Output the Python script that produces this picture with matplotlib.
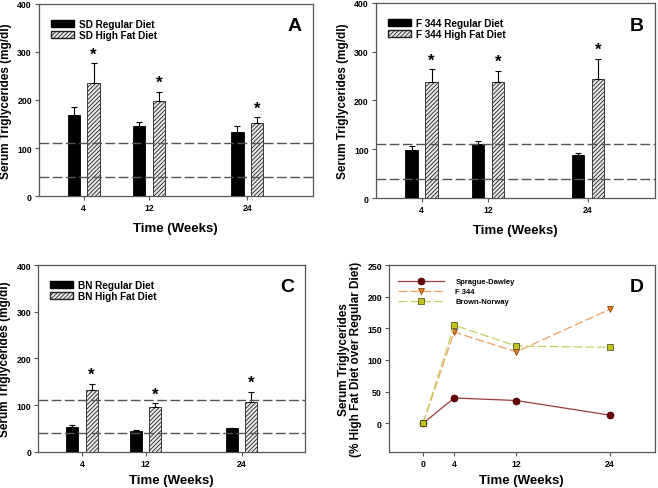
import matplotlib
matplotlib.use("Agg")
import matplotlib.pyplot as plt
from matplotlib.patches import Patch

plt.rcParams['font.family'] = ['Liberation Sans', 'DejaVu Sans']
plt.rcParams['font.weight'] = 'bold'
plt.rcParams['hatch.color'] = '#555555'
plt.rcParams['hatch.linewidth'] = 0.6

weeks = [4, 12, 24]

# panel A: Sprague-Dawley
sd_reg = [168, 145, 134]
sd_reg_err = [17, 10, 11]
sd_hf = [236, 197, 152]
sd_hf_err = [40, 20, 12]

# panel B: F344
f344_reg = [98, 110, 88]
f344_reg_err = [9, 6, 5]
f344_hf = [238, 237, 245]
f344_hf_err = [26, 24, 41]

# panel C: Brown-Norway
bn_reg = [53, 44, 50]
bn_reg_err = [4, 3, 1]
bn_hf = [132, 96, 106]
bn_hf_err = [13, 8, 23]

# reference range lines (mg/dl)
ref_lines = [110, 40]

# panel D: % high fat over regular
d_weeks = [0, 4, 12, 24]
d_sd = [0, 40, 36, 13]
d_f344 = [0, 144, 113, 180]
d_bn = [0, 155, 122, 120]

fig = plt.figure(figsize=(6.58, 4.89), dpi=100)

axA = fig.add_axes([0.059, 0.597, 0.416, 0.393])
axB = fig.add_axes([0.571, 0.593, 0.424, 0.399])
axC = fig.add_axes([0.058, 0.074, 0.406, 0.382])
axD = fig.add_axes([0.591, 0.074, 0.404, 0.382])

spine_col = '#555555'
dash = (0, (7, 2.5))


def style_axes(ax):
    for s in ax.spines.values():
        s.set_color(spine_col)
        s.set_linewidth(0.9)
    ax.tick_params(direction='out', length=3, width=0.8, color=spine_col,
                   labelsize=6.3, pad=2)
    for lab in ax.get_xticklabels() + ax.get_yticklabels():
        lab.set_fontweight('bold')


def bar_panel(ax, reg, reg_err, hf, hf_err, strain, letter, xpad):
    off = 1.2
    w = 1.5
    xr = [x - off for x in weeks]
    xh = [x + off for x in weeks]
    ekw = dict(ecolor='black', elinewidth=0.8, capsize=2, capthick=0.8)
    ax.bar(xr, reg, width=w, color='black', edgecolor='black', linewidth=0.6,
           yerr=[[0] * 3, reg_err], error_kw=ekw, zorder=3)
    ax.bar(xh, hf, width=w, color='#e8e8e8', edgecolor='#222222', linewidth=0.6, hatch='////////',
           yerr=[[0] * 3, hf_err], error_kw=ekw, zorder=3)
    for x, v, e in zip(xh, hf, hf_err):
        ax.text(x, v + e + 4, '*', ha='center', va='bottom', fontsize=12, fontweight='bold')
    for y in ref_lines:
        ax.axhline(y, color='#555555', lw=1.0, ls=dash, zorder=4)
    ax.set_xlim(-1.5, 32)
    ax.set_ylim(0, 400)
    ax.set_xticks(weeks)
    ax.set_yticks([0, 100, 200, 300, 400])
    ax.set_xlabel('Time (Weeks)', fontsize=9.5, fontweight='bold', labelpad=xpad)
    ax.set_ylabel('Serum Triglycerides (mg/dl)', fontsize=8.5, fontweight='bold', labelpad=4)
    handles = [Patch(facecolor='black', edgecolor='black'),
               Patch(facecolor='#e8e8e8', edgecolor='#222222', hatch='////////')]
    ax.legend(handles, [strain + ' Regular Diet', strain + ' High Fat Diet'],
              loc='upper left', bbox_to_anchor=(0.0, 0.985), frameon=False,
              handlelength=2.3, handleheight=0.7, labelspacing=0.15, handletextpad=0.5,
              borderaxespad=0.8, prop={'weight': 'bold', 'size': 7.2})
    ax.text(0.96, 0.93, letter, transform=ax.transAxes, ha='right', va='top',
            fontsize=14, fontweight='bold')
    style_axes(ax)


bar_panel(axA, sd_reg, sd_reg_err, sd_hf, sd_hf_err, 'SD', 'A', 7)
bar_panel(axB, f344_reg, f344_reg_err, f344_hf, f344_hf_err, 'F 344', 'B', 7)
bar_panel(axC, bn_reg, bn_reg_err, bn_hf, bn_hf_err, 'BN', 'C', 4.5)

# panel D
axD.plot(d_weeks, d_sd, color='#9b3a3a', lw=0.9, marker='o', ms=5,
         mfc='#6b0000', mec='#3a0000', mew=0.5, label='Sprague-Dawley', zorder=3)
axD.plot(d_weeks, d_f344, color='#f0a060', lw=0.9, ls=dash, marker='v', ms=5,
         mfc='#e08020', mec='#7a3a00', mew=0.5, label='F 344', zorder=3)
axD.plot(d_weeks, d_bn, color='#c8d060', lw=0.9, ls=dash, marker='s', ms=5,
         mfc='#c0c020', mec='#404000', mew=0.5, label='Brown-Norway', zorder=4)
axD.set_xlim(-4.4, 29.8)
axD.set_ylim(-45, 250)
axD.set_xticks(d_weeks)
axD.set_yticks([0, 50, 100, 150, 200, 250])
axD.set_xlabel('Time (Weeks)', fontsize=9.5, fontweight='bold', labelpad=4.5)
axD.set_ylabel('Serum Triglycerides\n(% High Fat Diet over Regular Diet)', fontsize=8.5,
               fontweight='bold', labelpad=4, linespacing=1.0)
axD.legend(loc='upper left', bbox_to_anchor=(0.0, 0.98), frameon=False, handlelength=6,
           labelspacing=0.35, borderaxespad=0.8, handletextpad=1.5,
           prop={'weight': 'bold', 'size': 5.5})
axD.text(0.96, 0.93, 'D', transform=axD.transAxes, ha='right', va='top',
         fontsize=14, fontweight='bold')
style_axes(axD)

fig.savefig('out.png', dpi=100)
